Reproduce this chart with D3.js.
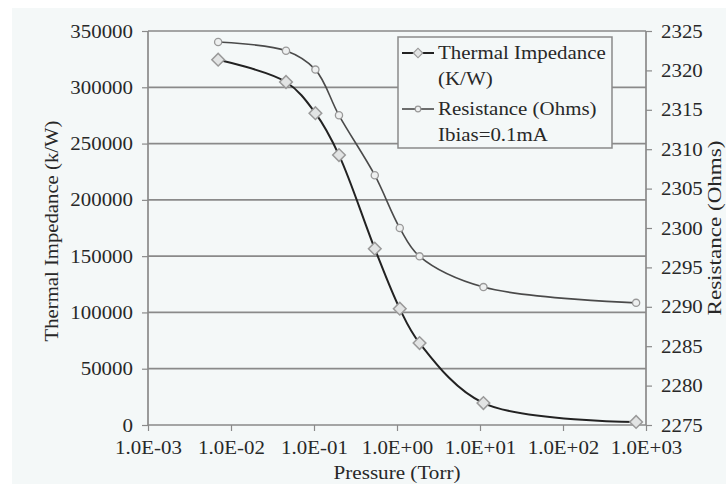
<!DOCTYPE html>
<html><head><meta charset="utf-8">
<script src="https://cdn.jsdelivr.net/npm/d3@7"></script>
<style>body{margin:0;background:#fff}svg{display:block}</style>
</head><body><svg id="c" width="726" height="484" font-family="'Liberation Serif', 'Times New Roman', serif"></svg>
<script>
const pressure = [0.007, 0.046, 0.104, 0.2, 0.54, 1.08, 1.87, 11, 760];
const thermalImpedance = [324500, 304700, 277000, 239800, 156600, 103300, 72800, 19500, 2700];
const resistance = [2323.6, 2322.5, 2320.1, 2314.3, 2306.7, 2300.0, 2296.4, 2292.5, 2290.5];
const xTicks = [1e-3, 1e-2, 1e-1, 1e0, 1e1, 1e2, 1e3];
const xTickLabels = ["1.0E-03","1.0E-02","1.0E-01","1.0E+00","1.0E+01","1.0E+02","1.0E+03"];
const leftTicks = [0,50000,100000,150000,200000,250000,300000,350000];
const rightTicks = [2275,2280,2285,2290,2295,2300,2305,2310,2315,2320,2325];
const legendLabels = [["Thermal Impedance","(K/W)"],["Resistance (Ohms)","Ibias=0.1mA"]];

const FONT = "Liberation Serif";
const TXT = "#282828";
const svg = d3.select("#c");
const L=148, R=646, T=31, B=425;
svg.append("rect").attr("x",12).attr("y",8).attr("width",714).attr("height",476).attr("fill","#f4f8f8");

const x = d3.scaleLog().domain([1e-3,1e3]).range([L,R]);
const yL = d3.scaleLinear().domain([0,350000]).range([B,T]);
const yR = d3.scaleLinear().domain([2275,2325]).range([B,T]);

svg.append("g").selectAll("line").data(leftTicks.slice(1)).join("line")
  .attr("x1",L).attr("x2",R).attr("y1",d=>yL(d)).attr("y2",d=>yL(d))
  .attr("stroke","#8a8a8a").attr("stroke-width",1.7);

const gL = svg.append("g").attr("transform",`translate(${L},0)`)
  .call(d3.axisLeft(yL).tickValues(leftTicks).tickFormat(d3.format("d")).tickSize(6).tickPadding(9));
const gR = svg.append("g").attr("transform",`translate(${R},0)`)
  .call(d3.axisRight(yR).tickValues(rightTicks).tickFormat(d3.format("d")).tickSize(6).tickPadding(9));
const gB = svg.append("g").attr("transform",`translate(0,${B})`)
  .call(d3.axisBottom(x).tickValues(xTicks).tickFormat((d,i)=>xTickLabels[i]).tickSize(6).tickPadding(10));
[gL,gR,gB].forEach(g=>{
  g.attr("font-family",FONT).attr("font-size",19);
  g.selectAll("path").attr("stroke","#8a8a8a").attr("stroke-width",1.7);
  g.selectAll("line").attr("stroke","#8a8a8a").attr("stroke-width",1.2);
  g.selectAll("text").attr("fill",TXT).attr("font-family",FONT).attr("font-size",19).classed("stretch",true);
});
gL.select("path").attr("d",`M0,${B}V${T}`);
gR.select("path").attr("d",`M0,${B}V${T}`);
gB.select("path").attr("d",`M${L},0H${R}`);

svg.append("text").attr("transform",`translate(58,231) rotate(-90)`).attr("text-anchor","middle")
  .attr("font-family",FONT).attr("font-size",19).attr("fill",TXT)
  .attr("textLength",221).attr("lengthAdjust","spacingAndGlyphs").text("Thermal Impedance (k/W)");
svg.append("text").attr("transform",`translate(720.5,228) rotate(-90)`).attr("text-anchor","middle")
  .attr("font-family",FONT).attr("font-size",19).attr("fill",TXT)
  .attr("textLength",175).attr("lengthAdjust","spacingAndGlyphs").text("Resistance (Ohms)");
svg.append("text").attr("x",397).attr("y",479).attr("text-anchor","middle")
  .attr("font-family",FONT).attr("font-size",19).attr("fill",TXT)
  .attr("textLength",127).attr("lengthAdjust","spacingAndGlyphs").text("Pressure (Torr)");

const curve = d3.curveCatmullRom.alpha(0.5);
const dataT = pressure.map((p,i)=>[p,thermalImpedance[i]]);
const dataR = pressure.map((p,i)=>[p,resistance[i]]);
svg.append("path").attr("d",d3.line().x(d=>x(d[0])).y(d=>yR(d[1])).curve(curve)(dataR))
  .attr("fill","none").attr("stroke","#4a4a4a").attr("stroke-width",1.6);
svg.append("path").attr("d",d3.line().x(d=>x(d[0])).y(d=>yL(d[1])).curve(curve)(dataT))
  .attr("fill","none").attr("stroke","#222").attr("stroke-width",2);

svg.append("g").selectAll("path").data(dataT).join("path")
  .attr("transform",d=>`translate(${x(d[0])},${yL(d[1])}) rotate(45)`)
  .attr("d",d3.symbol().type(d3.symbolSquare).size(80))
  .attr("fill","#e2e4e4").attr("stroke","#9a9a9a").attr("stroke-width",1.5);
svg.append("g").selectAll("circle").data(dataR).join("circle")
  .attr("cx",d=>x(d[0])).attr("cy",d=>yR(d[1])).attr("r",3.6)
  .attr("fill","#eef0f0").attr("stroke","#999").attr("stroke-width",1.3);

const lg = svg.append("g").attr("font-family",FONT);
lg.append("rect").attr("x",398).attr("y",37).attr("width",214).attr("height",111)
  .attr("fill","#f4f8f8").attr("stroke","#8a8a8a").attr("stroke-width",1.5);
const lgY = [53,109];
lgY.forEach((yy,i)=>{
  lg.append("line").attr("x1",402).attr("x2",434).attr("y1",yy).attr("y2",yy)
    .attr("stroke",i?"#4a4a4a":"#222").attr("stroke-width",i?1.6:2);
  if(i===0){
    lg.append("path").attr("transform",`translate(418,${yy}) rotate(45)`).attr("d",d3.symbol().type(d3.symbolSquare).size(45))
      .attr("fill","#e2e4e4").attr("stroke","#9a9a9a").attr("stroke-width",1.2);
  } else {
    lg.append("circle").attr("cx",418).attr("cy",yy).attr("r",2.8).attr("fill","#eef0f0").attr("stroke","#999").attr("stroke-width",1.2);
  }
  lg.append("text").attr("x",438).attr("y",yy+6).attr("font-size",19).attr("fill",TXT).classed("stretch",true).text(legendLabels[i][0]);
  lg.append("text").attr("x",438).attr("y",yy+32).attr("font-size",19).attr("fill",TXT).classed("stretch",true).text(legendLabels[i][1]);
});

svg.selectAll("text.stretch").each(function(){
  const w = this.getComputedTextLength();
  this.setAttribute("textLength", (w*1.1).toFixed(1));
  this.setAttribute("lengthAdjust","spacingAndGlyphs");
});
</script></body></html>
